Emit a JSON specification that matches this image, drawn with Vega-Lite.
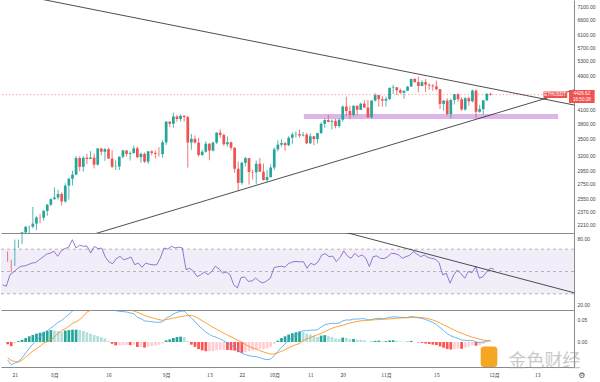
{
"$schema": "https://vega.github.io/schema/vega-lite/v6.json",
"padding": 0,
"background": "white",
"spacing": 0,
"bounds": "flush",
"config": {"view": {"stroke": null}, "axis": {"labelFont": "Liberation Sans", "labelFontSize": 5, "labelColor": "#444", "domainColor": "#8a8a8a", "ticks": false, "grid": false, "labelOverlap": false}},
"resolve": {"scale": {"x": "independent", "y": "independent"}},
"datasets": {"d": [
{"t":"2021-07-19T00:00:00","o":1894,"hi":1920,"lo":1816,"c":1820,"r":38.2,"m":-0.041,"s":-0.036,"hg":-0.005},
{"t":"2021-07-20T00:00:00","o":1820,"hi":1835,"lo":1718,"c":1787,"r":36.7,"m":-0.0515,"s":-0.042,"hg":-0.0095},
{"t":"2021-07-21T00:00:00","o":1787,"hi":2044,"lo":1776,"c":1994,"r":47.2,"m":-0.048,"s":-0.0445,"hg":-0.0035},
{"t":"2021-07-22T00:00:00","o":1994,"hi":2044,"lo":1954,"c":2025,"r":49.5,"m":-0.044,"s":-0.046,"hg":0.002},
{"t":"2021-07-23T00:00:00","o":2025,"hi":2130,"lo":1997,"c":2124,"r":52.5,"m":-0.036,"s":-0.041,"hg":0.005},
{"t":"2021-07-24T00:00:00","o":2124,"hi":2200,"lo":2107,"c":2187,"r":54.7,"m":-0.025,"s":-0.034,"hg":0.009},
{"t":"2021-07-25T00:00:00","o":2187,"hi":2200,"lo":2107,"c":2190,"r":55,"m":-0.0144,"s":-0.0274,"hg":0.013},
{"t":"2021-07-26T00:00:00","o":2190,"hi":2432,"lo":2170,"c":2226,"r":56.2,"m":-0.0045,"s":-0.0205,"hg":0.016},
{"t":"2021-07-27T00:00:00","o":2226,"hi":2316,"lo":2150,"c":2300,"r":57.6,"m":0.0038,"s":-0.0152,"hg":0.019},
{"t":"2021-07-28T00:00:00","o":2300,"hi":2340,"lo":2230,"c":2297,"r":58,"m":0.0114,"s":-0.0096,"hg":0.021},
{"t":"2021-07-29T00:00:00","o":2297,"hi":2397,"lo":2261,"c":2381,"r":60.6,"m":0.0205,"s":-0.0025,"hg":0.023},
{"t":"2021-07-30T00:00:00","o":2381,"hi":2469,"lo":2321,"c":2462,"r":63,"m":0.0258,"s":0.0008,"hg":0.025},
{"t":"2021-07-31T00:00:00","o":2462,"hi":2550,"lo":2443,"c":2536,"r":65.5,"m":0.0318,"s":0.0048,"hg":0.027},
{"t":"2021-08-01T00:00:00","o":2536,"hi":2700,"lo":2528,"c":2558,"r":66.5,"m":0.0379,"s":0.0119,"hg":0.026},
{"t":"2021-08-02T00:00:00","o":2558,"hi":2665,"lo":2530,"c":2607,"r":68.1,"m":0.0447,"s":0.0197,"hg":0.025},
{"t":"2021-08-03T00:00:00","o":2607,"hi":2630,"lo":2451,"c":2506,"r":63.6,"m":0.0492,"s":0.0262,"hg":0.023},
{"t":"2021-08-04T00:00:00","o":2506,"hi":2760,"lo":2486,"c":2725,"r":68.5,"m":0.056,"s":0.030,"hg":0.026},
{"t":"2021-08-05T00:00:00","o":2725,"hi":2844,"lo":2530,"c":2827,"r":70.5,"m":0.0629,"s":0.0359,"hg":0.027},
{"t":"2021-08-06T00:00:00","o":2827,"hi":2950,"lo":2727,"c":2890,"r":71.8,"m":0.0705,"s":0.0425,"hg":0.028},
{"t":"2021-08-07T00:00:00","o":2890,"hi":3190,"lo":2880,"c":3157,"r":78.5,"m":0.074,"s":0.046,"hg":0.028},
{"t":"2021-08-08T00:00:00","o":3157,"hi":3184,"lo":2943,"c":3013,"r":71.1,"m":0.078,"s":0.051,"hg":0.027},
{"t":"2021-08-09T00:00:00","o":3013,"hi":3185,"lo":2937,"c":3163,"r":73.5,"m":0.083,"s":0.058,"hg":0.025},
{"t":"2021-08-10T00:00:00","o":3163,"hi":3230,"lo":3058,"c":3141,"r":72.6,"m":0.09,"s":0.068,"hg":0.022},
{"t":"2021-08-11T00:00:00","o":3141,"hi":3275,"lo":3139,"c":3164,"r":72.8,"m":0.091,"s":0.072,"hg":0.019},
{"t":"2021-08-12T00:00:00","o":3164,"hi":3235,"lo":2987,"c":3048,"r":66.6,"m":0.091,"s":0.075,"hg":0.016},
{"t":"2021-08-13T00:00:00","o":3048,"hi":3331,"lo":3030,"c":3322,"r":72.5,"m":0.092,"s":0.078,"hg":0.014},
{"t":"2021-08-14T00:00:00","o":3322,"hi":3330,"lo":3200,"c":3265,"r":70.5,"m":0.091,"s":0.080,"hg":0.011},
{"t":"2021-08-15T00:00:00","o":3265,"hi":3330,"lo":3110,"c":3310,"r":71,"m":0.089,"s":0.081,"hg":0.008},
{"t":"2021-08-16T00:00:00","o":3310,"hi":3335,"lo":3145,"c":3148,"r":63,"m":0.083,"s":0.081,"hg":0.002},
{"t":"2021-08-17T00:00:00","o":3148,"hi":3290,"lo":2990,"c":3013,"r":58.5,"m":0.076,"s":0.080,"hg":-0.004},
{"t":"2021-08-18T00:00:00","o":3013,"hi":3122,"lo":2962,"c":3017,"r":57,"m":0.0712,"s":0.079,"hg":-0.0078},
{"t":"2021-08-19T00:00:00","o":3017,"hi":3185,"lo":2960,"c":3180,"r":61.5,"m":0.0697,"s":0.077,"hg":-0.0073},
{"t":"2021-08-20T00:00:00","o":3180,"hi":3300,"lo":3150,"c":3287,"r":63.6,"m":0.069,"s":0.076,"hg":-0.007},
{"t":"2021-08-21T00:00:00","o":3287,"hi":3290,"lo":3185,"c":3227,"r":60.6,"m":0.0682,"s":0.075,"hg":-0.0068},
{"t":"2021-08-22T00:00:00","o":3227,"hi":3270,"lo":3116,"c":3243,"r":61.5,"m":0.0659,"s":0.073,"hg":-0.0071},
{"t":"2021-08-23T00:00:00","o":3243,"hi":3375,"lo":3232,"c":3324,"r":63,"m":0.0644,"s":0.0705,"hg":-0.0061},
{"t":"2021-08-24T00:00:00","o":3324,"hi":3356,"lo":3154,"c":3172,"r":56.1,"m":0.056,"s":0.0674,"hg":-0.0114},
{"t":"2021-08-25T00:00:00","o":3172,"hi":3250,"lo":3082,"c":3228,"r":57.6,"m":0.053,"s":0.0644,"hg":-0.0114},
{"t":"2021-08-26T00:00:00","o":3228,"hi":3250,"lo":3075,"c":3097,"r":53.8,"m":0.048,"s":0.0606,"hg":-0.0126},
{"t":"2021-08-27T00:00:00","o":3097,"hi":3280,"lo":3060,"c":3271,"r":57.5,"m":0.047,"s":0.0576,"hg":-0.0106},
{"t":"2021-08-28T00:00:00","o":3271,"hi":3290,"lo":3203,"c":3245,"r":56.5,"m":0.046,"s":0.0553,"hg":-0.0093},
{"t":"2021-08-29T00:00:00","o":3245,"hi":3285,"lo":3152,"c":3228,"r":56,"m":0.045,"s":0.053,"hg":-0.008},
{"t":"2021-08-30T00:00:00","o":3228,"hi":3345,"lo":3182,"c":3225,"r":56,"m":0.0445,"s":0.0508,"hg":-0.0063},
{"t":"2021-08-31T00:00:00","o":3225,"hi":3470,"lo":3162,"c":3433,"r":62.1,"m":0.046,"s":0.0492,"hg":-0.0032},
{"t":"2021-09-01T00:00:00","o":3433,"hi":3841,"lo":3385,"c":3834,"r":71.1,"m":0.0545,"s":0.0508,"hg":0.0037},
{"t":"2021-09-02T00:00:00","o":3834,"hi":3838,"lo":3720,"c":3789,"r":70.2,"m":0.0583,"s":0.0523,"hg":0.006},
{"t":"2021-09-03T00:00:00","o":3789,"hi":4022,"lo":3710,"c":3940,"r":72.6,"m":0.0636,"s":0.0545,"hg":0.0091},
{"t":"2021-09-04T00:00:00","o":3940,"hi":3970,"lo":3830,"c":3887,"r":71.1,"m":0.0674,"s":0.056,"hg":0.0114},
{"t":"2021-09-05T00:00:00","o":3887,"hi":3985,"lo":3835,"c":3952,"r":71.8,"m":0.0697,"s":0.0576,"hg":0.0121},
{"t":"2021-09-06T00:00:00","o":3952,"hi":3970,"lo":3837,"c":3926,"r":71.1,"m":0.0705,"s":0.0591,"hg":0.0114},
{"t":"2021-09-07T00:00:00","o":3926,"hi":3953,"lo":3000,"c":3430,"r":51.7,"m":0.0621,"s":0.060,"hg":0.0021},
{"t":"2021-09-08T00:00:00","o":3430,"hi":3590,"lo":3300,"c":3497,"r":52.8,"m":0.0545,"s":0.0605,"hg":-0.006},
{"t":"2021-09-09T00:00:00","o":3497,"hi":3560,"lo":3412,"c":3427,"r":50.2,"m":0.047,"s":0.058,"hg":-0.011},
{"t":"2021-09-10T00:00:00","o":3427,"hi":3520,"lo":3180,"c":3209,"r":45.5,"m":0.0371,"s":0.0531,"hg":-0.016},
{"t":"2021-09-11T00:00:00","o":3209,"hi":3300,"lo":3190,"c":3265,"r":47,"m":0.0295,"s":0.0485,"hg":-0.019},
{"t":"2021-09-12T00:00:00","o":3265,"hi":3450,"lo":3250,"c":3407,"r":49.5,"m":0.0227,"s":0.0437,"hg":-0.021},
{"t":"2021-09-13T00:00:00","o":3407,"hi":3420,"lo":3120,"c":3285,"r":47.2,"m":0.0174,"s":0.0384,"hg":-0.021},
{"t":"2021-09-14T00:00:00","o":3285,"hi":3440,"lo":3270,"c":3429,"r":50,"m":0.0129,"s":0.0335,"hg":-0.0206},
{"t":"2021-09-15T00:00:00","o":3429,"hi":3620,"lo":3400,"c":3613,"r":54.7,"m":0.0106,"s":0.029,"hg":-0.0184},
{"t":"2021-09-16T00:00:00","o":3613,"hi":3680,"lo":3515,"c":3571,"r":52.5,"m":0.0068,"s":0.0245,"hg":-0.0177},
{"t":"2021-09-17T00:00:00","o":3571,"hi":3595,"lo":3370,"c":3398,"r":48.5,"m":0.0023,"s":0.020,"hg":-0.0177},
{"t":"2021-09-18T00:00:00","o":3398,"hi":3540,"lo":3355,"c":3433,"r":49.5,"m":-0.0023,"s":0.0157,"hg":-0.018},
{"t":"2021-09-19T00:00:00","o":3433,"hi":3445,"lo":3290,"c":3334,"r":47.2,"m":-0.0068,"s":0.0117,"hg":-0.0185},
{"t":"2021-09-20T00:00:00","o":3334,"hi":3345,"lo":2920,"c":2982,"r":38.2,"m":-0.0121,"s":0.0075,"hg":-0.0196},
{"t":"2021-09-21T00:00:00","o":2982,"hi":3100,"lo":2650,"c":2765,"r":35.3,"m":-0.0197,"s":0.0035,"hg":-0.0232},
{"t":"2021-09-22T00:00:00","o":2765,"hi":3100,"lo":2740,"c":3078,"r":44.5,"m":-0.025,"s":-0.0005,"hg":-0.0245},
{"t":"2021-09-23T00:00:00","o":3078,"hi":3175,"lo":3020,"c":3155,"r":45.1,"m":-0.0288,"s":-0.0055,"hg":-0.0233},
{"t":"2021-09-24T00:00:00","o":3155,"hi":3160,"lo":2740,"c":2931,"r":41.2,"m":-0.0311,"s":-0.010,"hg":-0.0211},
{"t":"2021-09-25T00:00:00","o":2931,"hi":2970,"lo":2815,"c":2925,"r":41.5,"m":-0.0326,"s":-0.0136,"hg":-0.019},
{"t":"2021-09-26T00:00:00","o":2925,"hi":3115,"lo":2745,"c":3063,"r":44.2,"m":-0.0333,"s":-0.0163,"hg":-0.017},
{"t":"2021-09-27T00:00:00","o":3063,"hi":3160,"lo":2930,"c":2935,"r":41.2,"m":-0.0356,"s":-0.0196,"hg":-0.016},
{"t":"2021-09-28T00:00:00","o":2935,"hi":3065,"lo":2800,"c":2807,"r":39.7,"m":-0.0386,"s":-0.0226,"hg":-0.016},
{"t":"2021-09-29T00:00:00","o":2807,"hi":2965,"lo":2780,"c":2853,"r":41.5,"m":-0.0402,"s":-0.0252,"hg":-0.015},
{"t":"2021-09-30T00:00:00","o":2853,"hi":3050,"lo":2840,"c":3001,"r":44,"m":-0.0386,"s":-0.0276,"hg":-0.011},
{"t":"2021-10-01T00:00:00","o":3001,"hi":3340,"lo":2960,"c":3307,"r":53.5,"m":-0.0311,"s":-0.0271,"hg":-0.004},
{"t":"2021-10-02T00:00:00","o":3307,"hi":3470,"lo":3270,"c":3391,"r":54.3,"m":-0.0212,"s":-0.0242,"hg":0.003},
{"t":"2021-10-03T00:00:00","o":3391,"hi":3490,"lo":3355,"c":3418,"r":54.7,"m":-0.0121,"s":-0.0211,"hg":0.009},
{"t":"2021-10-04T00:00:00","o":3418,"hi":3440,"lo":3280,"c":3380,"r":54,"m":-0.0045,"s":-0.0175,"hg":0.013},
{"t":"2021-10-05T00:00:00","o":3380,"hi":3547,"lo":3365,"c":3518,"r":57.2,"m":0.0038,"s":-0.0132,"hg":0.017},
{"t":"2021-10-06T00:00:00","o":3518,"hi":3620,"lo":3400,"c":3581,"r":58.5,"m":0.0106,"s":-0.0094,"hg":0.02},
{"t":"2021-10-07T00:00:00","o":3581,"hi":3640,"lo":3520,"c":3587,"r":59.1,"m":0.0159,"s":-0.0061,"hg":0.022},
{"t":"2021-10-08T00:00:00","o":3587,"hi":3675,"lo":3520,"c":3560,"r":58.6,"m":0.0205,"s":-0.0035,"hg":0.024},
{"t":"2021-10-09T00:00:00","o":3560,"hi":3625,"lo":3540,"c":3575,"r":58.9,"m":0.026,"s":0.003,"hg":0.023},
{"t":"2021-10-10T00:00:00","o":3575,"hi":3610,"lo":3400,"c":3415,"r":52.9,"m":0.0255,"s":0.0065,"hg":0.019},
{"t":"2021-10-11T00:00:00","o":3415,"hi":3600,"lo":3400,"c":3545,"r":57.4,"m":0.027,"s":0.010,"hg":0.017},
{"t":"2021-10-12T00:00:00","o":3545,"hi":3550,"lo":3380,"c":3492,"r":55.9,"m":0.027,"s":0.0135,"hg":0.0135},
{"t":"2021-10-13T00:00:00","o":3492,"hi":3608,"lo":3410,"c":3605,"r":58.5,"m":0.028,"s":0.0165,"hg":0.0115},
{"t":"2021-10-14T00:00:00","o":3605,"hi":3820,"lo":3590,"c":3788,"r":64.8,"m":0.034,"s":0.0195,"hg":0.0145},
{"t":"2021-10-15T00:00:00","o":3788,"hi":3900,"lo":3710,"c":3866,"r":66,"m":0.039,"s":0.0235,"hg":0.0155},
{"t":"2021-10-16T00:00:00","o":3866,"hi":3970,"lo":3820,"c":3830,"r":63.3,"m":0.041,"s":0.0275,"hg":0.0135},
{"t":"2021-10-17T00:00:00","o":3830,"hi":3880,"lo":3680,"c":3848,"r":63.8,"m":0.0425,"s":0.031,"hg":0.0115},
{"t":"2021-10-18T00:00:00","o":3848,"hi":3892,"lo":3700,"c":3745,"r":58.9,"m":0.042,"s":0.034,"hg":0.008},
{"t":"2021-10-19T00:00:00","o":3745,"hi":3900,"lo":3710,"c":3873,"r":62.5,"m":0.043,"s":0.036,"hg":0.007},
{"t":"2021-10-20T00:00:00","o":3873,"hi":4180,"lo":3830,"c":4155,"r":68.4,"m":0.048,"s":0.038,"hg":0.01},
{"t":"2021-10-21T00:00:00","o":4155,"hi":4380,"lo":3950,"c":4056,"r":64,"m":0.050,"s":0.0405,"hg":0.0095},
{"t":"2021-10-22T00:00:00","o":4056,"hi":4170,"lo":3880,"c":3971,"r":61.8,"m":0.050,"s":0.043,"hg":0.007},
{"t":"2021-10-23T00:00:00","o":3971,"hi":4180,"lo":3940,"c":4171,"r":66.3,"m":0.052,"s":0.045,"hg":0.007},
{"t":"2021-10-24T00:00:00","o":4171,"hi":4180,"lo":3960,"c":4083,"r":63.3,"m":0.052,"s":0.0465,"hg":0.0055},
{"t":"2021-10-25T00:00:00","o":4083,"hi":4240,"lo":4080,"c":4219,"r":64.8,"m":0.053,"s":0.048,"hg":0.005},
{"t":"2021-10-26T00:00:00","o":4219,"hi":4295,"lo":4130,"c":4132,"r":62,"m":0.053,"s":0.049,"hg":0.004},
{"t":"2021-10-27T00:00:00","o":4132,"hi":4300,"lo":3910,"c":3924,"r":54.4,"m":0.050,"s":0.0495,"hg":0.0005},
{"t":"2021-10-28T00:00:00","o":3924,"hi":4300,"lo":3890,"c":4288,"r":63.3,"m":0.051,"s":0.050,"hg":0.001},
{"t":"2021-10-29T00:00:00","o":4288,"hi":4460,"lo":4270,"c":4416,"r":64,"m":0.053,"s":0.0505,"hg":0.0025},
{"t":"2021-10-30T00:00:00","o":4416,"hi":4420,"lo":4150,"c":4321,"r":61.8,"m":0.054,"s":0.051,"hg":0.003},
{"t":"2021-10-31T00:00:00","o":4321,"hi":4390,"lo":4150,"c":4289,"r":61.5,"m":0.053,"s":0.0515,"hg":0.0015},
{"t":"2021-11-01T00:00:00","o":4289,"hi":4380,"lo":4155,"c":4324,"r":63.3,"m":0.054,"s":0.052,"hg":0.002},
{"t":"2021-11-02T00:00:00","o":4324,"hi":4600,"lo":4300,"c":4589,"r":66.3,"m":0.056,"s":0.0525,"hg":0.0035},
{"t":"2021-11-03T00:00:00","o":4589,"hi":4665,"lo":4440,"c":4602,"r":66,"m":0.057,"s":0.053,"hg":0.004},
{"t":"2021-11-04T00:00:00","o":4602,"hi":4610,"lo":4420,"c":4531,"r":64.8,"m":0.057,"s":0.054,"hg":0.003},
{"t":"2021-11-05T00:00:00","o":4531,"hi":4570,"lo":4440,"c":4472,"r":61.8,"m":0.056,"s":0.0545,"hg":0.0015},
{"t":"2021-11-06T00:00:00","o":4472,"hi":4530,"lo":4330,"c":4518,"r":63.3,"m":0.0555,"s":0.055,"hg":0.0005},
{"t":"2021-11-07T00:00:00","o":4518,"hi":4640,"lo":4510,"c":4620,"r":64.5,"m":0.056,"s":0.055,"hg":0.001},
{"t":"2021-11-08T00:00:00","o":4620,"hi":4825,"lo":4620,"c":4812,"r":67.8,"m":0.058,"s":0.0555,"hg":0.0025},
{"t":"2021-11-09T00:00:00","o":4812,"hi":4840,"lo":4715,"c":4735,"r":65.5,"m":0.0565,"s":0.0565,"hg":0},
{"t":"2021-11-10T00:00:00","o":4735,"hi":4870,"lo":4480,"c":4636,"r":63.3,"m":0.055,"s":0.056,"hg":-0.001},
{"t":"2021-11-11T00:00:00","o":4636,"hi":4780,"lo":4630,"c":4730,"r":64.8,"m":0.0535,"s":0.0555,"hg":-0.002},
{"t":"2021-11-12T00:00:00","o":4730,"hi":4810,"lo":4490,"c":4668,"r":62.5,"m":0.051,"s":0.0545,"hg":-0.0035},
{"t":"2021-11-13T00:00:00","o":4668,"hi":4700,"lo":4540,"c":4647,"r":61.8,"m":0.048,"s":0.0525,"hg":-0.0045},
{"t":"2021-11-14T00:00:00","o":4647,"hi":4685,"lo":4520,"c":4626,"r":61,"m":0.044,"s":0.050,"hg":-0.006},
{"t":"2021-11-15T00:00:00","o":4626,"hi":4770,"lo":4530,"c":4557,"r":58,"m":0.040,"s":0.047,"hg":-0.007},
{"t":"2021-11-16T00:00:00","o":4557,"hi":4560,"lo":4100,"c":4214,"r":47,"m":0.033,"s":0.043,"hg":-0.010},
{"t":"2021-11-17T00:00:00","o":4214,"hi":4300,"lo":4060,"c":4288,"r":48.4,"m":0.026,"s":0.039,"hg":-0.013},
{"t":"2021-11-18T00:00:00","o":4288,"hi":4345,"lo":3960,"c":3992,"r":39.5,"m":0.019,"s":0.035,"hg":-0.016},
{"t":"2021-11-19T00:00:00","o":3992,"hi":4330,"lo":3900,"c":4302,"r":46.9,"m":0.014,"s":0.031,"hg":-0.017},
{"t":"2021-11-20T00:00:00","o":4302,"hi":4440,"lo":4200,"c":4437,"r":51.4,"m":0.011,"s":0.027,"hg":-0.016},
{"t":"2021-11-21T00:00:00","o":4437,"hi":4460,"lo":4260,"c":4318,"r":48,"m":0.008,"s":0.023,"hg":-0.015},
{"t":"2021-11-22T00:00:00","o":4318,"hi":4370,"lo":4060,"c":4090,"r":43.9,"m":0.0045,"s":0.020,"hg":-0.0155},
{"t":"2021-11-23T00:00:00","o":4090,"hi":4370,"lo":4060,"c":4344,"r":50,"m":0.004,"s":0.0165,"hg":-0.0125},
{"t":"2021-11-24T00:00:00","o":4344,"hi":4380,"lo":4170,"c":4272,"r":49,"m":0.003,"s":0.0135,"hg":-0.0105},
{"t":"2021-11-25T00:00:00","o":4272,"hi":4550,"lo":4245,"c":4524,"r":54.4,"m":0.0035,"s":0.011,"hg":-0.0075},
{"t":"2021-11-26T00:00:00","o":4524,"hi":4550,"lo":3915,"c":4040,"r":43.9,"m":0.0,"s":0.0085,"hg":-0.0085},
{"t":"2021-11-27T00:00:00","o":4040,"hi":4190,"lo":4020,"c":4097,"r":45.4,"m":-0.001,"s":0.0065,"hg":-0.0075},
{"t":"2021-11-28T00:00:00","o":4097,"hi":4300,"lo":3980,"c":4294,"r":49.9,"m":0.0,"s":0.0045,"hg":-0.0045},
{"t":"2021-11-29T00:00:00","o":4294,"hi":4460,"lo":4280,"c":4445,"r":53,"m":0.002,"s":0.0032,"hg":-0.0012},
{"t":"2021-11-30T00:00:00","o":4445,"hi":4470,"lo":4405,"c":4426.62,"r":52,"m":0.0035,"s":0.003,"hg":0.0005}
]},
"data": {"name": "d"},
"vconcat": [
{
"width": 573, "height": 233,
"layer": [
{"data": {"values": [{"a": "2021-10-09T05:00:00", "b": "2021-12-18T19:00:00", "p1": 3887, "p2": 3992}]},
 "mark": {"type": "rect", "color": "#dcb6e8"},
 "encoding": {
  "x": {"field": "a", "type": "temporal", "title": null, "scale": {"domain": [{"year": 2021, "month": 7, "date": 18, "hours": 13, "minutes": 12}, {"year": 2021, "month": 12, "date": 21, "hours": 19, "minutes": 12}]}, "axis": {"labels": false, "domain": true, "ticks": false, "grid": false}},
  "x2": {"field": "b"},
  "y": {"field": "p1", "type": "quantitative", "title": null, "scale": {"type": "log", "domain": [2117, 7331], "nice": false, "zero": false}, "axis": {"orient": "right", "values": [2210, 2370, 2550, 2750, 2950, 3200, 3500, 3800, 4100, 4900, 5300, 5700, 6100, 6600, 7100], "format": ".2f", "labelPadding": 3, "grid": false}},
  "y2": {"field": "p2"}}},
{"data": {"values": [{"p": 4426.62}]},
 "mark": {"type": "rule", "color": "#ef5350", "strokeDash": [1.5, 2], "strokeWidth": 0.8, "opacity": 0.6},
 "encoding": {"y": {"field": "p", "type": "quantitative"}}},
{"mark": {"type": "rule", "strokeWidth": 0.8},
 "encoding": {
  "x": {"field": "t", "type": "temporal"},
  "y": {"field": "lo", "type": "quantitative"},
  "y2": {"field": "hi"},
  "color": {"condition": {"test": "datum.c >= datum.o", "value": "#26a69a"}, "value": "#ef5350"}}},
{"mark": {"type": "bar", "size": 2.7, "clip": true},
 "encoding": {
  "x": {"field": "t", "type": "temporal"},
  "y": {"field": "o", "type": "quantitative"},
  "y2": {"field": "c"},
  "color": {"condition": {"test": "datum.c >= datum.o", "value": "#26a69a"}, "value": "#ef5350"}}},
{"data": {"values": [{"t": "2021-07-14T00:00:00", "p": 7777, "g": "u"}, {"t": "2021-12-26T00:00:00", "p": 4144, "g": "u"}, {"t": "2021-07-14T00:00:00", "p": 1781, "g": "l"}, {"t": "2021-12-26T00:00:00", "p": 4614, "g": "l"}]},
 "mark": {"type": "line", "color": "#222", "strokeWidth": 0.8, "clip": true},
 "encoding": {"x": {"field": "t", "type": "temporal"}, "y": {"field": "p", "type": "quantitative"}, "detail": {"field": "g"}}},
{"data": {"values": [{"a": "2021-12-14T17:00:00", "b": "2021-12-21T07:00:00", "p1": 4348, "p2": 4501}, {"a": "2021-12-21T19:12:00", "b": "2021-12-28T22:00:00", "p1": 4234, "p2": 4537}]},
 "mark": {"type": "rect", "color": "#ef5350", "clip": false},
 "encoding": {"x": {"field": "a", "type": "temporal"}, "x2": {"field": "b"}, "y": {"field": "p1", "type": "quantitative"}, "y2": {"field": "p2"}}},
{"data": {"values": [{"t": "2021-12-17T23:00:00", "p": 4420, "s": "ETHUSDT"}, {"t": "2021-12-25T09:00:00", "p": 4450, "s": "4426.62"}, {"t": "2021-12-25T09:00:00", "p": 4295, "s": "16:50:28"}]},
 "mark": {"type": "text", "color": "white", "fontSize": 4.6, "font": "Liberation Sans", "clip": false},
 "encoding": {"x": {"field": "t", "type": "temporal"}, "y": {"field": "p", "type": "quantitative"}, "text": {"field": "s"}}}
]
},
{
"width": 573, "height": 77,
"layer": [
{"data": {"values": [{"lo": 30, "hi": 70}]},
 "mark": {"type": "rect", "color": "#7e57c2", "opacity": 0.1},
 "encoding": {"y": {"field": "lo", "type": "quantitative"}, "y2": {"field": "hi"}}},
{"data": {"values": [{"v": 30}, {"v": 50}, {"v": 70}]},
 "mark": {"type": "rule", "color": "#9a9a9a", "strokeDash": [3, 3], "strokeWidth": 0.7},
 "encoding": {"y": {"field": "v", "type": "quantitative"}}},
{"mark": {"type": "line", "color": "#7e57c2", "strokeWidth": 0.8, "clip": true},
 "encoding": {
  "x": {"field": "t", "type": "temporal", "title": null, "scale": {"domain": [{"year": 2021, "month": 7, "date": 18, "hours": 13, "minutes": 12}, {"year": 2021, "month": 12, "date": 21, "hours": 19, "minutes": 12}]}, "axis": {"labels": false, "domain": true, "ticks": false, "grid": false}},
  "y": {"field": "r", "type": "quantitative", "title": null, "scale": {"domain": [15.5, 84.5], "nice": false, "zero": false}, "axis": {"orient": "right", "values": [20, 40, 60, 80], "format": ".2f", "labelPadding": 3, "grid": false}}}},
{"data": {"values": [{"t": "2021-10-12T00:00:00", "v": 92.5}, {"t": "2021-12-26T00:00:00", "v": 27.3}]},
 "mark": {"type": "line", "color": "#222", "strokeWidth": 0.8, "clip": true},
 "encoding": {"x": {"field": "t", "type": "temporal"}, "y": {"field": "v", "type": "quantitative"}}}
]
},
{
"width": 573, "height": 57,
"layer": [
{"transform": [{"window": [{"op": "lag", "field": "hg", "as": "hp"}], "sort": [{"field": "t"}]}],
 "mark": {"type": "bar", "size": 2.7},
 "encoding": {
  "x": {"field": "t", "type": "temporal", "title": null, "scale": {"domain": [{"year": 2021, "month": 7, "date": 18, "hours": 13, "minutes": 12}, {"year": 2021, "month": 12, "date": 21, "hours": 19, "minutes": 12}]}, "axis": {"values": [{"year": 2021, "month": 7, "date": 21}, {"year": 2021, "month": 8, "date": 1}, {"year": 2021, "month": 8, "date": 16}, {"year": 2021, "month": 9, "date": 1}, {"year": 2021, "month": 9, "date": 13}, {"year": 2021, "month": 9, "date": 22}, {"year": 2021, "month": 10, "date": 1}, {"year": 2021, "month": 10, "date": 11}, {"year": 2021, "month": 10, "date": 20}, {"year": 2021, "month": 11, "date": 1}, {"year": 2021, "month": 11, "date": 15}, {"year": 2021, "month": 12, "date": 1}, {"year": 2021, "month": 12, "date": 13}], "labelExpr": "date(datum.value) == 1 ? (month(datum.value) + 1) + '月' : '' + date(datum.value)", "labelFont": "Noto Sans CJK SC", "labelFontSize": 5, "labelPadding": 5, "domain": true, "ticks": false, "grid": false}},
  "y": {"field": "hg", "type": "quantitative", "title": null, "scale": {"domain": [-0.0568, 0.0727], "nice": false, "zero": false}, "axis": {"orient": "right", "values": [0, 0.05], "format": ".2f", "labelPadding": 3, "grid": false}},
  "y2": {"datum": 0},
  "color": {"condition": [
    {"test": "datum.hg >= 0 && datum.hg >= datum.hp", "value": "#26a69a"},
    {"test": "datum.hg >= 0", "value": "#b2dfdb"},
    {"test": "datum.hg < datum.hp", "value": "#ff5252"}], "value": "#ffcdd2"}}},
{"mark": {"type": "line", "color": "#42a5f5", "strokeWidth": 0.8, "clip": true},
 "encoding": {"x": {"field": "t", "type": "temporal"}, "y": {"field": "m", "type": "quantitative"}}},
{"mark": {"type": "line", "color": "#fb8c00", "strokeWidth": 0.8, "clip": true},
 "encoding": {"x": {"field": "t", "type": "temporal"}, "y": {"field": "s", "type": "quantitative"}}},
{"data": {"values": [{"a": "2021-11-27T07:00:00", "b": "2021-12-01T22:00:00", "v1": -0.0568, "v2": -0.0105}]},
 "mark": {"type": "rect", "color": "#f5a623", "cornerRadius": 3, "clip": false},
 "encoding": {"x": {"field": "a", "type": "temporal"}, "x2": {"field": "b"}, "y": {"field": "v1", "type": "quantitative"}, "y2": {"field": "v2"}}},
{"data": {"values": [{"t": "2021-12-15T00:00:00", "v": -0.0455, "s": "金色财经"}]},
 "mark": {"type": "text", "color": "#9e9e9e", "opacity": 0.55, "fontSize": 18, "font": "Noto Sans CJK SC", "clip": false},
 "encoding": {"x": {"field": "t", "type": "temporal"}, "y": {"field": "v", "type": "quantitative"}, "text": {"field": "s"}}},
{"data": {"values": [{"t": "2021-12-25T09:00:00", "v": -0.0773, "s": "⚙"}]},
 "mark": {"type": "text", "color": "#555", "fontSize": 8, "font": "DejaVu Sans", "clip": false},
 "encoding": {"x": {"field": "t", "type": "temporal"}, "y": {"field": "v", "type": "quantitative"}, "text": {"field": "s"}}}
]
}
]
}
